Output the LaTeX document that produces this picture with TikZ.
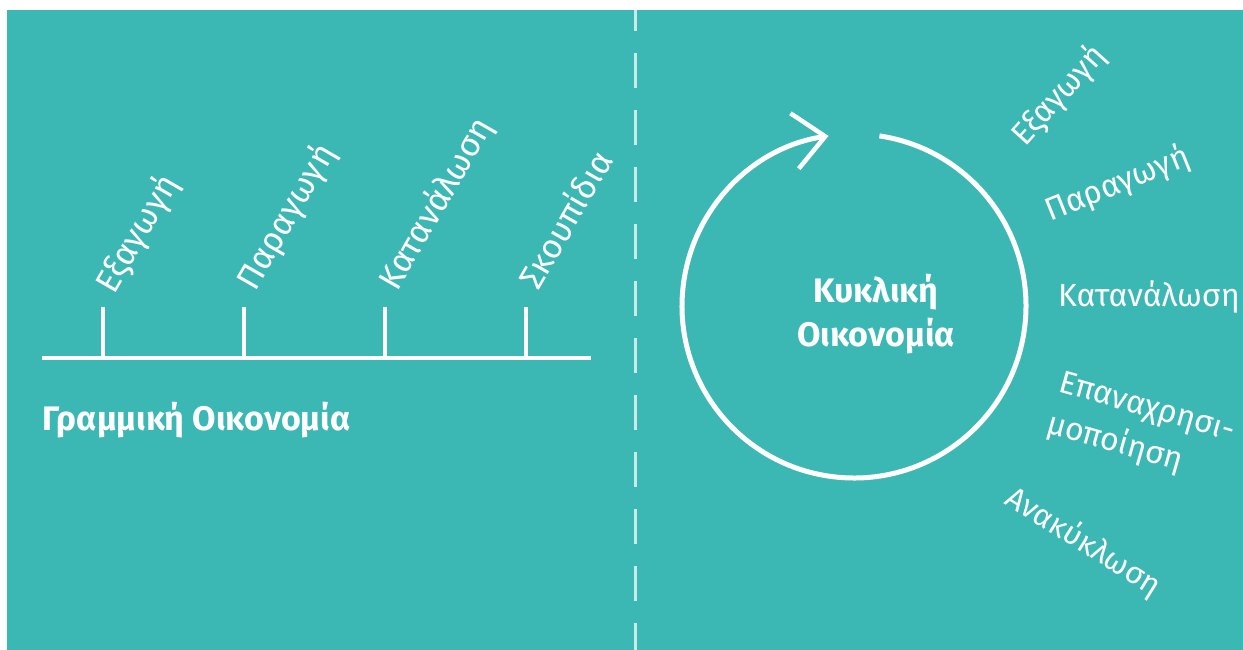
\documentclass[tikz,border=0pt]{standalone}
\usepackage{fontspec}
\setmainfont{Fira Sans}
\usetikzlibrary{arrows.meta}
\definecolor{bg}{RGB}{59,183,180}
\begin{document}
\begin{tikzpicture}[x=1pt,y=-1pt,
  lbl/.style={text=white, font=\fontsize{32}{40}\selectfont, inner sep=0pt},
  llbl/.style={lbl, font=\fontsize{34}{40}\selectfont, rotate=60, anchor=base west},
  ttl/.style={text=white, font=\bfseries\fontsize{34}{44}\selectfont, inner sep=0pt},
  wline/.style={white, line width=4.5pt},
  ring/.style={white, line width=5pt}]
\useasboundingbox (0,0) rectangle (1243,650);
\fill[white] (0,0) rectangle (1243,650);
\fill[bg] (7,10) rectangle (1243,650);
% divider
\coordinate (dtop) at (635,10);
\coordinate (dbot) at (635,650);
\draw[white!72!bg, line width=3pt, dash pattern=on 35pt off 22pt, dash phase=14pt] (dtop) -- (dbot);
% linear economy
\coordinate (L0) at (42,358);
\coordinate (L1) at (591,358);
\draw[wline] (L0) -- (L1);
\foreach \n/\x in {t1/103,t2/244,t3/385,t4/526}{
  \coordinate (\n b) at (\x,358);
  \coordinate (\n t) at (\x,307);
  \draw[wline] (\n b) -- (\n t);
}
\node[llbl] (la) at (114,296) {Εξαγωγή};
\node[llbl] (lb) at (255,293) {Παραγωγή};
\node[llbl] (lc) at (397,293) {Κατανάλωση};
\node[llbl] (ld) at (538,292) {Σκουπίδια};
\node[ttl, anchor=base west] (lin) at (42,430) {Γραμμική Οικονομία};
% circular economy
\coordinate (C) at (854,306);
\draw[ring, -{Straight Barb[length=31pt,width=56pt,line width=4.5pt]}] (C) ++(-81.5:172) arc[start angle=-81.5, end angle=261.5, radius=172];
\node[ttl, anchor=base] (circ1) at (876,302) {Κυκλική};
\node[ttl, anchor=base] (circ2) at (876,346) {Οικονομία};
\node[lbl, rotate=48, anchor=base west] (ra) at (1025,148) {Εξαγωγή};
\node[lbl, rotate=22, anchor=base west] (rb) at (1050,222) {Παραγωγή};
\node[lbl, anchor=base west] (rc) at (1058,306) {Κατανάλωση};
\node[lbl, rotate=-16, anchor=base west] (rd1) at (1057,391) {Επαναχρησι-};
\node[lbl, rotate=-16, anchor=base west] (rd2) at (1045,432) {μοποίηση};
\node[lbl, font=\fontsize{31}{40}\selectfont, rotate=-32, anchor=base west] (re) at (1003,503) {Ανακύκλωση};
\end{tikzpicture}
\end{document}
